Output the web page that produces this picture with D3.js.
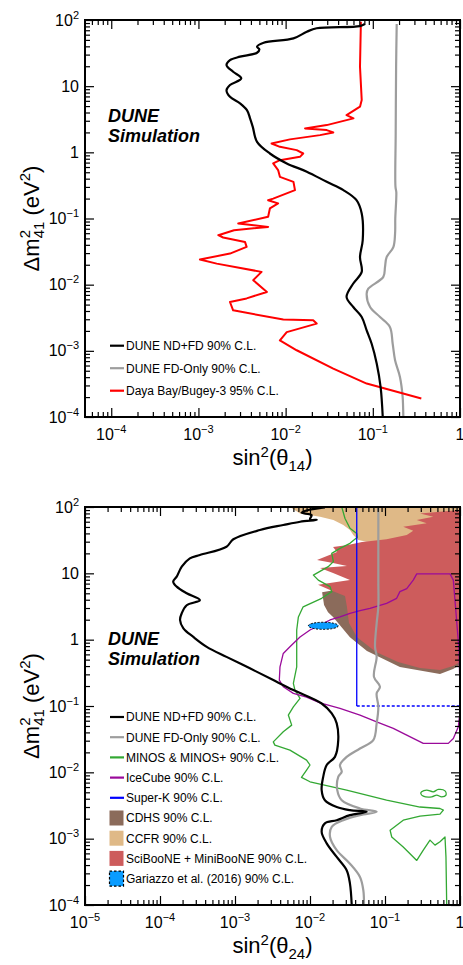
<!DOCTYPE html>
<html>
<head>
<meta charset="utf-8">
<script src="https://cdn.jsdelivr.net/npm/d3@7"></script>
<style>
  body { margin: 0; background: #fff; }
  text { font-family: "Liberation Sans", Arial, Helvetica, sans-serif; fill: #000; }
</style>
</head>
<body>
<svg id="chart" width="463" height="965"></svg>
<script>
// ---------- data: [sin^2(theta), dm^2 (eV^2)] ----------
// top panel (theta14)
const ndfd14 = [[0.081,87],[0.071,81],[0.0227,75],[0.0175,66.5],[0.0123,52.8],[0.0056,45.4],[0.0047,39.5],[0.005,36],[0.0047,32],[0.0030,27.9],[0.0023,24.8],[0.0021,20.8],[0.0025,16.5],[0.0031,13.1],[0.0023,10.4],[0.0021,8.7],[0.0023,6.9],[0.0030,5.5],[0.0036,4.35],[0.0039,3.3],[0.0042,2.43],[0.0047,1.44],[0.0066,0.96],[0.0103,0.68],[0.0175,0.51],[0.0296,0.358],[0.046,0.268],[0.065,0.189],[0.0746,0.119],[0.0766,0.047],[0.0713,0.0262],[0.0746,0.0156],[0.0597,0.0104],[0.050,0.0065],[0.0597,0.0046],[0.0746,0.00325],[0.085,0.00204],[0.097,0.00128],[0.111,0.00064],[0.123,0.00028],[0.130,0.0001]];
const fd14 = [[0.188,87],[0.185,19.6],[0.183,1.93],[0.182,0.3],[0.186,0.25],[0.181,0.1],[0.18,0.059],[0.172,0.037],[0.144,0.026],[0.138,0.0185],[0.132,0.0131],[0.0887,0.0087],[0.085,0.0073],[0.093,0.0046],[0.121,0.00325],[0.157,0.0023],[0.169,0.00128],[0.18,0.00072],[0.205,0.0004],[0.22,0.0002],[0.224,0.0001]];
const dayaBay = [[0.073,94],[0.0713,19.6],[0.0746,6.2],[0.0713,4.9],[0.050,3.65],[0.060,3.26],[0.0296,2.58],[0.0167,2.30],[0.0296,2.17],[0.0352,2.0],[0.0248,1.82],[0.0112,1.57],[0.0069,1.36],[0.0086,1.21],[0.0134,1.08],[0.0159,0.96],[0.0146,0.855],[0.0086,0.76],[0.0072,0.68],[0.0082,0.54],[0.0086,0.426],[0.0123,0.358],[0.0128,0.268],[0.0072,0.20],[0.0063,0.189],[0.0082,0.169],[0.0066,0.142],[0.0063,0.106],[0.00286,0.084],[0.0063,0.0747],[0.00256,0.0665],[0.00169,0.0559],[0.00192,0.0516],[0.00342,0.0443],[0.00357,0.0372],[0.0023,0.0295],[0.00104,0.024],[0.00162,0.0208],[0.0053,0.0156],[0.00425,0.0117],[0.0061,0.00776],[0.00357,0.0062],[0.0023,0.00547],[0.0025,0.0041],[0.0094,0.00297],[0.0207,0.00289],[0.0227,0.00258],[0.0103,0.00192],[0.0086,0.00144],[0.0134,0.00102],[0.0352,0.00054],[0.085,0.00032],[0.36,0.00019]];

// bottom panel (theta24)
const ndfd24 = [[0.0158,99],[0.0095,90],[0.0077,82],[0.0105,75.6],[0.010,65],[0.0123,63.7],[0.0074,60],[0.0044,53.5],[0.00215,45],[0.00095,32.6],[0.00077,25.2],[0.00034,18.9],[0.00025,16.8],[0.000195,12.6],[0.000167,8.9],[0.00015,7.5],[0.000167,6.3],[0.000227,5.0],[0.00034,3.95],[0.000227,3.3],[0.000195,2.5],[0.000185,1.98],[0.000205,1.48],[0.000278,1.1],[0.00042,0.78],[0.00077,0.55],[0.00158,0.37],[0.00324,0.246],[0.006,0.174],[0.0143,0.109],[0.0195,0.0773],[0.0227,0.0547],[0.0238,0.0306],[0.0215,0.0171],[0.0167,0.0129],[0.015,0.00855],[0.0143,0.0054],[0.0158,0.0038],[0.0227,0.0030],[0.0341,0.00269],[0.057,0.00254],[0.0341,0.00226],[0.0227,0.0019],[0.0158,0.0017],[0.0143,0.00127],[0.0167,0.00085],[0.0227,0.00053],[0.0308,0.000335],[0.0341,0.00021],[0.036,0.0001]];
const fd24 = [[0.0815,100],[0.0815,7.9],[0.0815,3.13],[0.0774,1.76],[0.0736,0.78],[0.0774,0.552],[0.0713,0.275],[0.0858,0.195],[0.0774,0.155],[0.0815,0.0973],[0.0774,0.0547],[0.0698,0.0306],[0.0464,0.0229],[0.0308,0.0171],[0.0251,0.0129],[0.0265,0.0102],[0.0238,0.00855],[0.0231,0.0054],[0.0265,0.0038],[0.0464,0.00285],[0.0774,0.00254],[0.0464,0.00226],[0.0278,0.0019],[0.0195,0.00151],[0.0185,0.00106],[0.0227,0.00067],[0.0341,0.00042],[0.0464,0.000265],[0.0514,0.000167],[0.0525,0.0001]];
const minos = [[0.0265,100],[0.0293,67],[0.0341,47.7],[0.042,40],[0.0428,34.9],[0.0341,28.3],[0.0251,23.8],[0.0195,20],[0.0205,15],[0.0175,12.6],[0.0111,9.4],[0.0129,7.9],[0.0185,6.3],[0.0195,5.3],[0.0143,4.2],[0.0081,3.13],[0.007,2.2],[0.00665,1.4],[0.00665,0.78],[0.00665,0.39],[0.006,0.219],[0.0063,0.174],[0.00736,0.130],[0.006,0.0973],[0.00514,0.073],[0.0057,0.0515],[0.0044,0.0408],[0.00324,0.0288],[0.0034,0.0257],[0.0054,0.0216],[0.009,0.0153],[0.010,0.0129],[0.009,0.0108],[0.0077,0.0084],[0.010,0.0072],[0.0308,0.0054],[0.105,0.0038],[0.293,0.0030],[0.541,0.00285],[0.60,0.00269],[0.541,0.00234],[0.293,0.00218],[0.175,0.0019],[0.117,0.00134],[0.123,0.00106],[0.175,0.00075],[0.265,0.00047],[0.324,0.00067],[0.398,0.00095],[0.464,0.0008],[0.541,0.0009],[0.631,0.00106],[0.65,0.00053],[0.665,0.0001]];
const minosIsland = [[0.308,0.00508],[0.36,0.0054],[0.44,0.00508],[0.514,0.00552],[0.631,0.00526],[0.65,0.00453],[0.57,0.00427],[0.489,0.00453],[0.42,0.00427],[0.324,0.00438],[0.30,0.0048]];
const iceCube = [[1.0,0.081],[0.95,0.0485],[0.815,0.0324],[0.698,0.0273],[0.324,0.0273],[0.195,0.0364],[0.129,0.046],[0.0774,0.0578],[0.0464,0.073],[0.0251,0.092],[0.0136,0.111],[0.009,0.136],[0.006,0.155],[0.0044,0.195],[0.0039,0.246],[0.00398,0.39],[0.0044,0.62],[0.0054,0.78],[0.00736,1.1],[0.010,1.4],[0.0136,1.66],[0.0185,1.98],[0.0251,2.2],[0.0341,2.5],[0.0464,2.73],[0.063,2.97],[0.105,3.53],[0.143,4.2],[0.158,5.3],[0.195,5.9],[0.238,7.9],[0.265,9.8],[0.736,9.8],[0.815,7.9],[0.857,3.95],[0.90,1.98],[0.97,0.70],[1.0,0.174]];
const superKx = [0.042, 1];
const superKy = [0.1, 100];
const ccfr = [[0.0054,100],[0.00736,80],[0.0136,71.5],[0.0205,63.7],[0.0278,53.5],[0.0341,45],[0.0378,37.8],[0.044,31.8],[0.057,30],[1,26.7],[1,100]];
const cdhs = [[0.0145,5.2],[0.0215,5.6],[0.0341,5.2],[1,5.2],[1,0.414],[0.807,0.36],[0.541,0.303],[0.158,0.386],[0.0575,0.673],[0.0341,1.09],[0.0203,2.19],[0.0174,2.6],[0.0154,3.33],[0.0149,4.24]];
const sciMini = [[0.0203,24.9],[0.0321,26.7],[0.0494,29.7],[0.105,32.6],[0.195,37.8],[0.238,44],[0.175,50.5],[0.36,56.8],[0.265,63.7],[0.44,71.5],[0.293,80],[0.541,85],[1,90],[1,0.46],[0.807,0.40],[0.541,0.348],[0.293,0.373],[0.149,0.46],[0.0759,0.65],[0.0424,1.09],[0.0331,1.78],[0.0311,3.1],[0.0293,4.55],[0.0185,5.6],[0.0128,6.7],[0.0341,7.9],[0.0203,10.1],[0.0136,12.0],[0.0311,12.9],[0.0203,14.3],[0.0124,15.9],[0.0229,20.9]];
const gariazzoX = [0.0095, 0.0238];
const gariazzoY = [1.43, 1.83];

// legends and axis labels
const legendTop = ["DUNE ND+FD 90% C.L.", "DUNE FD-Only 90% C.L.", "Daya Bay/Bugey-3 95% C.L."];
const legendBottom = ["DUNE ND+FD 90% C.L.", "DUNE FD-Only 90% C.L.", "MINOS & MINOS+ 90% C.L.", "IceCube 90% C.L.", "Super-K 90% C.L.", "CDHS 90% C.L.", "CCFR 90% C.L.", "SciBooNE + MiniBooNE 90% C.L.", "Gariazzo et al. (2016) 90% C.L."];
const yTicks = [1e-4, 1e-3, 1e-2, 1e-1, 1, 10, 100];
const xTicksTop = [1e-4, 1e-3, 1e-2, 1e-1, 1];
const xTicksBottom = [1e-5, 1e-4, 1e-3, 1e-2, 1e-1, 1];

// ---------- styles ----------
const st = {
  ndfd: {stroke: "#000", w: 2.2},
  fd: {stroke: "#9d9d9d", w: 2.2},
  daya: {stroke: "#ff0000", w: 2},
  minos: {stroke: "#33a833", w: 1.3},
  ice: {stroke: "#9a0a9a", w: 1.3},
  sk: {stroke: "#0000ff", w: 1.3},
  cdhs: "#8b6b5b",
  ccfr: "#dfb987",
  sci: "#cd5c5c",
  gar: "#0a9cff"
};

const svg = d3.select("#chart");
const left = 85, W = 375;

function makePanel(id, top, h, xDomain, xTicks) {
  const g = svg.append("g").attr("transform", `translate(${left},${top})`);
  const x = d3.scaleLog().domain(xDomain).range([0, W]);
  const y = d3.scaleLog().domain([1e-4, 100]).range([h, 0]);
  svg.append("defs").append("clipPath").attr("id", id)
    .append("rect").attr("width", W).attr("height", h);
  const plot = g.append("g").attr("clip-path", `url(#${id})`);
  return {g, x, y, h, plot, xTicks};
}

function minors(domain) {
  const out = [];
  const lo = Math.floor(Math.log10(domain[0])), hi = Math.ceil(Math.log10(domain[1]));
  for (let e = lo; e < hi; e++)
    for (let k = 2; k <= 9; k++) {
      const v = k * Math.pow(10, e);
      if (v > domain[0] * 1.001 && v < domain[1]) out.push(v);
    }
  return out;
}

function sciLabel(t, v) {
  const e = Math.round(Math.log10(v));
  if (e === 0) { t.text("1"); return; }
  if (e === 1) { t.text("10"); return; }
  t.append("tspan").text("10");
  t.append("tspan").attr("dy", -7).attr("font-size", 11).text(e < 0 ? "\u2212" + (-e) : String(e));
}

function drawAxes(p) {
  const {g, x, y, h, xTicks} = p;
  const xs = [[d3.axisBottom, `translate(0,${h})`], [d3.axisTop, "translate(0,0)"]];
  const ys = [[d3.axisLeft, "translate(0,0)"], [d3.axisRight, `translate(${W},0)`]];
  const xMaj = xTicks.filter(v => v >= x.domain()[0]);
  [[xMaj, 9], [minors(x.domain()), 5]].forEach(([vals, s]) => {
    xs.forEach(([fn, tr]) => {
      const a = g.append("g").attr("transform", tr)
        .call(fn(x).tickValues(vals).tickSizeInner(-s).tickSizeOuter(0).tickFormat(""));
      a.select(".domain").remove();
      a.selectAll("line").attr("stroke", "#000").attr("stroke-width", 1.2);
    });
  });
  [[yTicks, 9], [minors(y.domain()), 5]].forEach(([vals, s]) => {
    ys.forEach(([fn, tr]) => {
      const a = g.append("g").attr("transform", tr)
        .call(fn(y).tickValues(vals).tickSizeInner(-s).tickSizeOuter(0).tickFormat(""));
      a.select(".domain").remove();
      a.selectAll("line").attr("stroke", "#000").attr("stroke-width", 1.2);
    });
  });
  g.append("rect").attr("width", W).attr("height", h)
    .attr("fill", "none").attr("stroke", "#000").attr("stroke-width", 2);

  g.selectAll(null).data(xTicks).enter().append("text")
    .attr("x", d => x(d)).attr("y", h + 23)
    .attr("text-anchor", "middle").attr("font-size", 16)
    .each(function (d) { sciLabel(d3.select(this), d); });
  g.selectAll(null).data(yTicks).enter().append("text")
    .attr("x", -6).attr("y", d => y(d) + 5.5)
    .attr("text-anchor", "end").attr("font-size", 16)
    .each(function (d) { sciLabel(d3.select(this), d); });
}

function titles(p, sub) {
  const {g, h} = p;
  const yt = g.append("text")
    .attr("transform", `translate(${39 - left},${h / 2}) rotate(-90)`)
    .attr("text-anchor", "middle").attr("font-size", 22);
  yt.append("tspan").text("\u0394m");
  yt.append("tspan").attr("font-size", 15).attr("dy", -9).text("2");
  yt.append("tspan").attr("font-size", 15).attr("dx", -8.3).attr("dy", 14).text("41");
  yt.append("tspan").attr("dy", -5).text(" (eV");
  yt.append("tspan").attr("font-size", 15).attr("dy", -9).text("2");
  yt.append("tspan").attr("dy", 9).text(")");

  const xt = g.append("text")
    .attr("x", W / 2).attr("y", h + 48)
    .attr("text-anchor", "middle").attr("font-size", 22);
  xt.append("tspan").text("sin");
  xt.append("tspan").attr("font-size", 15).attr("dy", -8).text("2");
  xt.append("tspan").attr("dy", 8).text("(\u03b8");
  xt.append("tspan").attr("font-size", 15).attr("dy", 6).text(sub);
  xt.append("tspan").attr("dy", -6).text(")");
}

function dune(p, yBase) {
  const t = p.g.append("g").attr("font-size", 18).attr("font-weight", "bold").attr("font-style", "italic");
  t.append("text").attr("x", 23).attr("y", yBase).text("DUNE");
  t.append("text").attr("x", 23).attr("y", yBase + 20).text("Simulation");
}

function curve(p, data, s, smooth) {
  const line = d3.line().x(d => p.x(d[0])).y(d => p.y(d[1]))
    .curve(smooth ? d3.curveCatmullRom.alpha(0.5) : d3.curveLinear);
  p.plot.append("path").datum(data).attr("d", line)
    .attr("fill", "none").attr("stroke", s.stroke).attr("stroke-width", s.w)
    .attr("stroke-linejoin", "round");
}

function area(p, data, fill) {
  const line = d3.line().x(d => p.x(d[0])).y(d => p.y(d[1]));
  p.plot.append("path").attr("d", line(data) + "Z")
    .attr("fill", fill).attr("stroke", "none");
}

function legend(p, labels, y0, dy, kinds) {
  const lg = p.g.append("g").attr("font-size", 12);
  labels.forEach((lab, i) => {
    const yy = y0 + i * dy;
    const k = kinds[i];
    if (k.fill) {
      lg.append("rect").attr("x", 24.5).attr("y", yy - 7.5).attr("width", 14).attr("height", 15)
        .attr("fill", k.fill)
        .attr("stroke", k.dash ? "#000" : "none").attr("stroke-width", 1.2)
        .attr("stroke-dasharray", k.dash ? "2.5,2" : null);
    } else {
      lg.append("line").attr("x1", 25).attr("x2", 39).attr("y1", yy).attr("y2", yy)
        .attr("stroke", k.stroke).attr("stroke-width", 2.2);
    }
    lg.append("text").attr("x", 41).attr("y", yy + 4.3).attr("fill", "#111").text(lab);
  });
}

// ---------- top panel ----------
const pt = makePanel("clipTop", 20, 397, [5e-5, 1], xTicksTop);
curve(pt, fd14, st.fd, true);
curve(pt, dayaBay, st.daya, false);
curve(pt, ndfd14, st.ndfd, true);
drawAxes(pt);
titles(pt, "14");
dune(pt, 102);
legend(pt, legendTop, 325.7, 22.5, [st.ndfd, st.fd, st.daya]);

// ---------- bottom panel ----------
const pb = makePanel("clipBot", 507, 398, [1e-5, 1], xTicksBottom);
area(pb, ccfr, st.ccfr);
area(pb, cdhs, st.cdhs);
area(pb, sciMini, st.sci);
curve(pb, minos, st.minos, false);
pb.plot.append("path").datum(minosIsland)
  .attr("d", d3.line().x(d => pb.x(d[0])).y(d => pb.y(d[1])).curve(d3.curveCatmullRomClosed))
  .attr("fill", "none").attr("stroke", st.minos.stroke).attr("stroke-width", st.minos.w);
curve(pb, iceCube, st.ice, false);
// Super-K: solid vertical edge, dashed lower edge
pb.plot.append("line")
  .attr("x1", pb.x(superKx[0])).attr("x2", pb.x(superKx[0]))
  .attr("y1", pb.y(superKy[0])).attr("y2", pb.y(superKy[1]))
  .attr("stroke", st.sk.stroke).attr("stroke-width", st.sk.w);
pb.plot.append("line")
  .attr("x1", pb.x(superKx[0])).attr("x2", pb.x(superKx[1]))
  .attr("y1", pb.y(superKy[0])).attr("y2", pb.y(superKy[0]))
  .attr("stroke", st.sk.stroke).attr("stroke-width", st.sk.w).attr("stroke-dasharray", "3,2");
curve(pb, fd24, st.fd, true);
curve(pb, ndfd24, st.ndfd, true);
// Gariazzo et al. allowed island
const gx0 = pb.x(gariazzoX[0]), gx1 = pb.x(gariazzoX[1]);
const gy0 = pb.y(gariazzoY[0]), gy1 = pb.y(gariazzoY[1]);
pb.plot.append("ellipse")
  .attr("cx", (gx0 + gx1) / 2).attr("cy", (gy0 + gy1) / 2)
  .attr("rx", (gx1 - gx0) / 2).attr("ry", (gy0 - gy1) / 2)
  .attr("fill", st.gar).attr("stroke", "#000").attr("stroke-width", 1).attr("stroke-dasharray", "2,1.5");
drawAxes(pb);
titles(pb, "24");
dune(pb, 138);
legend(pb, legendBottom, 210, 20.2, [
  st.ndfd, st.fd, st.minos, st.ice, st.sk,
  {fill: st.cdhs}, {fill: st.ccfr}, {fill: st.sci}, {fill: st.gar, dash: true}
]);
</script>
</body>
</html>
